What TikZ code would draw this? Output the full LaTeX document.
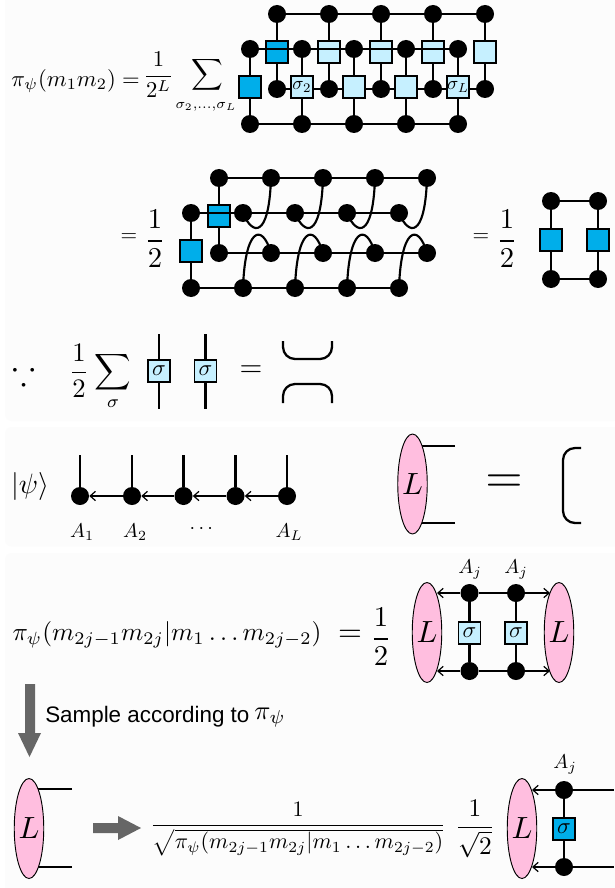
\documentclass[tikz,border=0pt]{standalone}
\usepackage{amsmath,amssymb}
\usepackage{fontspec}
\setsansfont{Liberation Sans}
\usetikzlibrary{arrows.meta,shapes.geometric,backgrounds}
\pgfdeclarelayer{panel}\pgfdeclarelayer{wires}
\pgfsetlayers{panel,wires,main}
\definecolor{tblue}{HTML}{00AEEA}
\definecolor{tlight}{HTML}{C6F0FF}
\definecolor{tpink}{HTML}{FFBEDF}
\definecolor{tgray}{HTML}{666666}
\definecolor{tpanel}{HTML}{FCFCFC}
\newcommand{\inbox}[1]{\scalebox{1.7}{$#1$}}
\newcommand{\insub}[1]{\scalebox{1.4}{$#1$}}
\newcommand{\ellL}{\scalebox{2.3}{$L$}}
\tikzset{
  x=0.75pt,y=-0.75pt,
  dotn/.style={circle,fill=black,draw=none,inner sep=0,minimum size=13.5pt},
  bluebox/.style={rectangle,draw=black,line width=1.1pt,fill=tblue,inner sep=0,minimum size=16.5pt},
  lightbox/.style={rectangle,draw=black,line width=1.1pt,fill=tlight,inner sep=0,minimum size=16.5pt},
  wire/.style={line width=1.9pt,draw=black},
  curvewire/.style={line width=1.6pt,draw=black},
  thinwire/.style={line width=1.7pt,draw=black},
  arrowwire/.style={line width=1.9pt,draw=black,{Straight Barb[length=4pt,width=7pt,line width=.9pt]}-},
  ell/.style={ellipse,draw=black,line width=.7pt,fill=tpink,inner sep=0,minimum width=22pt,minimum height=75pt},
  tex/.style={inner sep=0,scale=#1},
  tex/.default=1.7,
  panelbox/.style={fill=tpanel,draw=none,rounded corners=5pt},
  bigarrow/.style={fill=tgray,draw=none},
  arrw/.style={line width=1.2pt,-{Straight Barb[length=4pt,width=7pt,line width=.9pt]}},
}
\begin{document}
\begin{tikzpicture}
\useasboundingbox (0,0) rectangle (614,888);
\begin{pgfonlayer}{panel}
\fill[white] (0,0) rectangle (614,888);
\fill[panelbox] (5,-10) rectangle (630,421);
\fill[panelbox] (5,427) rectangle (630,546.5);
\fill[panelbox] (5,553) rectangle (630,898);
\end{pgfonlayer}

% ---- row 1
\node[tex,anchor=west] (f1) at (11,81) {$\pi_\psi(m_1m_2)=$};
\node[tex=1.7] (f1b) at (158.5,75) {$\displaystyle\frac{1}{2^L}$};
\node[tex=1.65] (f1c) at (207,75) {$\displaystyle\sum$};
\node[tex=1.5] (f1d) at (206,107) {$\scriptstyle\sigma_2,\dots,\sigma_L$};
\foreach \i/\x in {1/277,2/329,3/381,4/433,5/485}{
  \node[dotn] (t\i) at (\x,14) {};
  \node[dotn] (c\i) at (\x,89) {};
}
\foreach \i/\x in {1/250,2/302,3/354,4/406,5/458}{
  \node[dotn] (b\i) at (\x,49) {};
  \node[dotn] (d\i) at (\x,124) {};
}
\node[bluebox] (sa1) at (277,52) {};
\foreach \i/\x in {2/329,3/381,4/433,5/485}{\node[lightbox] (sa\i) at (\x,52) {};}
\node[bluebox] (sb1) at (250,87) {};
\node[lightbox] (sb2) at (302,87) {\insub{\sigma_2}};
\node[lightbox] (sb3) at (354,87) {};
\node[lightbox] (sb4) at (406,87) {};
\node[lightbox] (sb5) at (458,87) {\insub{\sigma_L}};
\begin{pgfonlayer}{wires}
\foreach \i in {1,...,5}{
  \draw[wire] (t\i) -- (c\i);
  \draw[wire] (b\i) -- (d\i);
}
\draw[wire] (t1) -- (t5);
\draw[wire] (c1) -- (c5);
\draw[wire] (d1) -- (d5);
\end{pgfonlayer}
\draw[wire] (b1) -- (b5);

% ---- row 2
\node[tex=1.6] (f2a) at (129,238) {$=$};
\node[tex=2.15] (f2b) at (155,239) {$\displaystyle\frac12$};
\foreach \i/\x in {1/219,2/271,3/323,4/375,5/427}{
  \node[dotn] (u\i) at (\x,178) {};
  \node[dotn] (w\i) at (\x,253) {};
}
\foreach \i/\x in {1/191,2/243,3/295,4/347,5/399}{
  \node[dotn] (v\i) at (\x,213) {};
  \node[dotn] (z\i) at (\x,288) {};
}
\node[bluebox] (q1) at (219,216) {};
\node[bluebox] (q2) at (191,251) {};
\begin{pgfonlayer}{wires}
\draw[wire] (u1) -- (u5);
\draw[wire] (w1) -- (w5);
\draw[wire] (z1) -- (z5);
\draw[wire] (u1) -- (w1);
\draw[wire] (v1) -- (z1);
\end{pgfonlayer}
\draw[wire] (v1) -- (v5);
\foreach \a in {2,3,4,5}{
  \draw[curvewire] (v\a.center) .. controls +(9,22) and +(-2,62) .. (u\a.center);
  \draw[curvewire] (z\a.center) .. controls +(2,-60) and +(-9,-31) .. (w\a.center);
}

\node[tex=1.6] (f2c) at (481,238) {$=$};
\node[tex=2.15] (f2d) at (507,239) {$\displaystyle\frac12$};
\node[dotn] (r1) at (551,201) {};
\node[dotn] (r2) at (598,201) {};
\node[dotn] (r3) at (551,279) {};
\node[dotn] (r4) at (598,279) {};
\node[bluebox] (r5) at (551,240) {};
\node[bluebox] (r6) at (598,240) {};
\begin{pgfonlayer}{wires}
\draw[wire] (r1) -- (r2);
\draw[wire] (r3) -- (r4);
\draw[wire] (r1) -- (r3);
\draw[wire] (r2) -- (r4);
\end{pgfonlayer}

% ---- because panel
\node[tex=2.6] (g1) at (24,372) {$\because$};
\node[tex=2] (g2) at (79,371) {$\displaystyle\frac12$};
\node[tex=1.9] (g3) at (113,381) {$\displaystyle\sum_{\sigma}$};
\coordinate (h1a) at (159,334);
\coordinate (h1b) at (159,409);
\coordinate (h2a) at (205.5,334);
\coordinate (h2b) at (205.5,409);
\begin{pgfonlayer}{wires}
\draw[wire] (h1a) -- (h1b);
\draw[wire] (h2a) -- (h2b);
\end{pgfonlayer}
\node[lightbox] (g4) at (159,371) {\inbox{\sigma}};
\node[lightbox] (g5) at (205.5,371) {\inbox{\sigma}};
\node[tex=2.2] (g6) at (251,371) {$=$};
\coordinate (k1) at (283,341);
\coordinate (k2) at (332,341);
\coordinate (k3) at (283,403);
\coordinate (k4) at (332,403);
\draw[thinwire,rounded corners=9pt] (k1) -- (283,359) -- (332,359) -- (k2);
\draw[thinwire,rounded corners=9pt] (k3) -- (283,384) -- (332,384) -- (k4);

% ---- psi panel
\node[tex=2.1] (p0) at (30,486) {$|\psi\rangle$};
\foreach \i/\x in {1/80,2/132,3/183.5,4/235.5,5/287}{
  \node[dotn] (m\i) at (\x,496) {};
  \coordinate (mt\i) at (\x,455);
  \begin{pgfonlayer}{wires}\draw[wire] (m\i) -- (mt\i);\end{pgfonlayer}
}
\foreach \a/\b in {1/2,2/3,3/4,4/5}{
  \draw[arrowwire] (m\a) -- (m\b);
}
\node[tex=1.5] (a1) at (82,532) {$A_1$};
\node[tex=1.5] (a2) at (135,532) {$A_2$};
\node[tex=1.5] (a3) at (203,529) {$\cdots$};
\node[tex=1.5] (a4) at (289,532) {$A_L$};
\node[ell] (e1) at (412.5,484) {\ellL};
\coordinate (e1a) at (455,446);
\coordinate (e1b) at (455,523);
\begin{pgfonlayer}{wires}
\draw[thinwire] (e1a) -- (e1a -| e1);
\draw[thinwire] (e1b) -- (e1b -| e1);
\end{pgfonlayer}
\node[tex=3.6] (eq) at (504,484) {$=$};
\coordinate (br1) at (581,448);
\coordinate (br2) at (581,523);
\draw[thinwire,rounded corners=9pt] (br1) -- (563,448) -- (563,523) -- (br2);

% ---- conditional panel
\node[tex=1.9,anchor=west] (c0) at (12,635) {$\pi_\psi(m_{2j-1}m_{2j}|m_1\dots m_{2j-2})$};
\node[tex=2.3] (c01) at (350,636) {$=$};
\node[tex=2.15] (c00) at (381,637) {$\displaystyle\frac12$};
\node[ell] (e2) at (427,632.5) {\ellL};
\node[ell] (e3) at (559,632.5) {\ellL};
\node[dotn] (n1) at (469.5,593) {};
\node[dotn] (n2) at (516,593) {};
\node[dotn] (n3) at (469.5,671) {};
\node[dotn] (n4) at (516,671) {};
\begin{pgfonlayer}{wires}
\draw[wire] (n1) -- (n3);
\draw[wire] (n2) -- (n4);
\draw[wire] (n1) -- (n2);
\draw[wire] (n3) -- (n4);
\end{pgfonlayer}
\coordinate (p1) at (437,593);
\coordinate (p2) at (437,671);
\coordinate (p3) at (550,593);
\coordinate (p4) at (550,671);
\draw[arrw] (n1) -- (p1);
\draw[arrw] (n3) -- (p2);
\draw[arrw] (n2) -- (p3);
\draw[arrw] (n4) -- (p4);
\node[lightbox] (s1) at (469.5,633) {\inbox{\sigma}};
\node[lightbox] (s2) at (516,633) {\inbox{\sigma}};
\node[tex=1.5] (a5) at (470,570) {$A_j$};
\node[tex=1.5] (a6) at (516,570) {$A_j$};

% ---- sample arrow
\fill[bigarrow] (25,684) -- (35,684) -- (35,733) -- (41,733) -- (29.5,757) -- (18,733) -- (25,733) -- cycle;
\node[anchor=west,inner sep=0] (sm) at (45,717) {\sffamily\fontsize{16.8}{19}\selectfont Sample according to};
\node[tex=2] (sm2) at (270,718) {$\pi_\psi$};

% ---- bottom
\node[ell] (e4) at (29,828.5) {\ellL};
\coordinate (e4a) at (72,789);
\coordinate (e4b) at (72,867);
\begin{pgfonlayer}{wires}
\draw[thinwire] (e4a) -- (e4a -| e4);
\draw[thinwire] (e4b) -- (e4b -| e4);
\end{pgfonlayer}
\fill[bigarrow] (93,823) -- (118,823) -- (118,816) -- (141,828) -- (118,840) -- (118,833) -- (93,833) -- cycle;
\node[tex=1.65] (fr) at (298,829) {$\displaystyle\frac{1}{\sqrt{\pi_\psi(m_{2j-1}m_{2j}|m_1\dots m_{2j-2})}}$};
\node[tex=1.9] (fr2) at (475,829) {$\displaystyle\frac{1}{\sqrt2}$};
\node[ell] (e5) at (522,828.5) {\ellL};
\node[dotn] (o1) at (564,790) {};
\node[dotn] (o2) at (564,867) {};
\coordinate (o3) at (614,790);
\coordinate (o4) at (614,867);
\begin{pgfonlayer}{wires}
\draw[wire] (o1) -- (o2);
\draw[wire] (o1) -- (o3);
\draw[wire] (o2) -- (o4);
\end{pgfonlayer}
\coordinate (p5) at (532,790);
\coordinate (p6) at (532,867);
\draw[arrw] (o1) -- (p5);
\draw[arrw] (o2) -- (p6);
\node[bluebox] (o5) at (564,829) {\inbox{\sigma}};
\node[tex=1.5] (a7) at (565,765) {$A_j$};
\end{tikzpicture}
\end{document}
